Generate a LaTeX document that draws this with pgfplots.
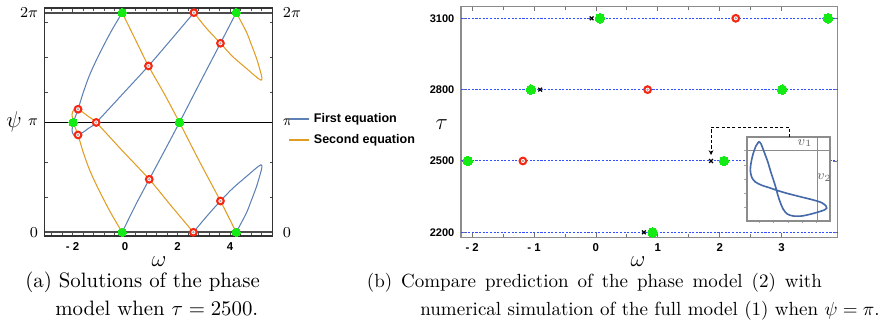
\documentclass[border=0pt]{standalone}
\usepackage{fontspec}
\setsansfont{Liberation Sans}
\usepackage{pgfplots}
\pgfplotsset{compat=1.18}
\usetikzlibrary{arrows.meta}
\definecolor{mblue}{rgb}{0.368,0.507,0.710}
\definecolor{morange}{rgb}{0.881,0.611,0.142}
\definecolor{mgreen}{RGB}{20,235,20}
\definecolor{mred}{RGB}{245,40,20}
\definecolor{dblue}{RGB}{50,80,255}
\definecolor{iblue}{RGB}{70,105,170}
\pgfplotsset{
  greenpt/.style={only marks, color=mgreen, mark=*, mark size=2.2pt, mark options={draw=mgreen, fill=mgreen, line width=0pt}},
  redpt/.style={only marks, color=mred, mark=*, mark size=1.75pt, mark options={draw=mred, line width=1.1pt, fill=white}},
  redctr/.style={only marks, color=black!35, mark=*, mark size=0.35pt, mark options={draw=none, fill=black!35}},
}
\begin{document}
\begin{tikzpicture}
\useasboundingbox (0pt,0pt) rectangle (463.4pt,169.37pt);
% ---------------- left panel ----------------
\begin{axis}[at={(23.51pt,45.24pt)}, anchor=south west, scale only axis,
  width=119.8pt, height=119.8pt,
  xmin=-3.06, xmax=5.61, ymin=-0.106, ymax=6.409,
  axis line style={black!80, line width=0.8pt},
  tick style={black!70, line width=0.4pt},
  major tick length=2.6pt, minor tick length=1.5pt,
  tick align=inside,
  xtick={-2,0,2,4}, xticklabels={- 2,0,2,4},
  minor xtick={-2.8,-2.4,-1.6,-1.2,-0.8,-0.4,0.4,0.8,1.2,1.6,2.4,2.8,3.2,3.6,4.4,4.8,5.2},
  ytick={0,3.14159,6.28319}, yticklabels={$0$,$\pi$,$2\pi$},
  minor ytick={1,2,4,5,6},
  xticklabel style={font=\sffamily\bfseries\fontsize{6}{6.5}\selectfont},
  yticklabel style={font=\fontsize{8}{9}\selectfont},
  clip=false,
  legend cell align=left,
  legend image code/.code={\draw[#1, line width=1.3pt] (0pt,0pt) -- (10.5pt,0pt);},
  legend style={at={(1.065,0.467)}, anchor=west, draw=none, fill=none, inner sep=0pt,
    font=\sffamily\bfseries\fontsize{6.6}{7.5}\selectfont, row sep=0.65pt},
]
\addplot[black!70, line width=1pt, forget plot] coordinates {(-3.06,0)(5.61,0)};
\addplot[black!70, line width=1pt, forget plot] coordinates {(-3.06,6.28319)(5.61,6.28319)};
\addplot[black, line width=0.6pt, forget plot] coordinates {(-3.06,3.14159)(5.61,3.14159)};
% blue (first equation)
\addplot[mblue, line width=0.55pt, smooth, tension=0.5] coordinates {
 (-0.11,0) (0.4,0.78) (0.92,1.516) (1.5,2.33) (2.07,3.1416) (2.85,4.28) (3.63,5.407) (4.23,6.2832)};
\addlegendentry{First equation}
\addplot[morange, line width=0.55pt, smooth, tension=0.5] coordinates {
 (-0.11,6.2832) (0.4,5.5) (0.89,4.758) (1.5,3.95) (2.07,3.1416) (2.85,2.0) (3.63,0.896) (4.23,0)};
\addlegendentry{Second equation}
\addplot[mblue, line width=0.55pt, smooth, tension=0.5, forget plot] coordinates {
 (-0.11,6.2832) (-0.55,5.72) (-1.0,5.07) (-1.35,4.50) (-1.60,3.98) (-1.79,3.519) (-1.92,3.25)
 (-1.98,3.10) (-2.01,2.98) (-2.02,2.92) (-2.0,2.84) (-1.94,2.77) (-1.86,2.745) (-1.79,2.784)
 (-1.6,2.86) (-1.4,2.97) (-1.10,3.1416) (-0.1,3.95) (0.89,4.758) (1.75,5.51) (2.62,6.2832)};
\addplot[morange, line width=0.55pt, smooth, tension=0.5, forget plot] coordinates {
 (-0.11,0) (-0.55,0.563) (-1.0,1.213) (-1.35,1.783) (-1.60,2.303) (-1.79,2.784) (-1.92,3.033)
 (-1.98,3.183) (-2.01,3.303) (-2.02,3.363) (-2.0,3.443) (-1.94,3.513) (-1.86,3.54) (-1.79,3.519)
 (-1.6,3.43) (-1.4,3.313) (-1.10,3.1416) (-0.1,2.33) (0.92,1.516) (1.75,0.76) (2.6,0)};
\addplot[mblue, line width=0.55pt, smooth, tension=0.5, forget plot] coordinates {
 (2.6,0) (3.1,0.45) (3.63,0.896) (4.10,1.26) (4.61,1.59) (4.9,1.78) (5.08,1.89) (5.17,1.93)
 (5.21,1.90) (5.19,1.79) (5.12,1.60) (5.0,1.30) (4.8,0.9) (4.61,0.54) (4.23,0)};
\addplot[morange, line width=0.55pt, smooth, tension=0.5, forget plot] coordinates {
 (2.62,6.2832) (3.1,5.833) (3.63,5.407) (4.10,5.023) (4.61,4.693) (4.9,4.503) (5.08,4.393) (5.17,4.353)
 (5.21,4.383) (5.19,4.493) (5.12,4.683) (5.0,4.983) (4.8,5.383) (4.61,5.743) (4.23,6.2832)};
\addplot[greenpt, forget plot] coordinates {(-0.11,6.2832) (4.23,6.2832) (-1.98,3.1416) (2.07,3.1416) (-0.11,0) (4.23,0)};
\addplot[redpt, forget plot] coordinates {(2.62,6.2832) (2.6,0) (3.63,5.407) (0.89,4.758) (-1.79,3.519) (-1.10,3.1416) (-1.79,2.784) (0.92,1.516) (3.63,0.896)};
\addplot[redctr, forget plot] coordinates {(2.62,6.2832) (2.6,0) (3.63,5.407) (0.89,4.758) (-1.79,3.519) (-1.10,3.1416) (-1.79,2.784) (0.92,1.516) (3.63,0.896)};
\node[anchor=west, font=\fontsize{8}{9}\selectfont, xshift=2pt] at (axis cs:5.61,0) {$0$};
\node[anchor=west, font=\fontsize{8}{9}\selectfont, xshift=2pt] at (axis cs:5.61,3.14159) {$\pi$};
\node[anchor=west, font=\fontsize{8}{9}\selectfont, xshift=2pt] at (axis cs:5.61,6.28319) {$2\pi$};
\end{axis}
% ---------------- right panel ----------------
\begin{axis}[at={(242.49pt,44.55pt)}, anchor=south west, scale only axis,
  width=197.9pt, height=121.3pt,
  xmin=-2.18, xmax=3.90, ymin=2179, ymax=3148.8,
  axis line style={black!45, line width=0.6pt},
  tick style={black!55, line width=0.4pt},
  major tick length=2.2pt, minor tick length=1.6pt,
  tick align=inside,
  xtick={-2,-1,0,1,2,3}, xticklabels={- 2,- 1,0,1,2,3}, minor x tick num=1,
  ytick={2200,2500,2800,3100}, yticklabels={2200,2500,2800,3100},
  xticklabel style={font=\sffamily\bfseries\fontsize{6}{6.5}\selectfont},
  yticklabel style={font=\sffamily\bfseries\fontsize{5.8}{6}\selectfont},
  clip=false,
]
\addplot[color=dblue, line width=0.55pt, dash pattern=on 1.1pt off 0.8pt] coordinates {(-2.18,2200) (3.90,2200)};
\addplot[color=dblue, line width=0.55pt, dash pattern=on 1.1pt off 0.8pt] coordinates {(-2.18,2500) (3.90,2500)};
\addplot[color=dblue, line width=0.55pt, dash pattern=on 1.1pt off 0.8pt] coordinates {(-2.18,2800) (3.90,2800)};
\addplot[color=dblue, line width=0.55pt, dash pattern=on 1.1pt off 0.8pt] coordinates {(-2.18,3100) (3.90,3100)};
\addplot[only marks, color=black, mark=x, mark size=1.4pt, mark options={black, line width=0.65pt}] coordinates {(-0.07,3100) (-0.90,2800) (1.86,2500) (0.775,2200)};
\addplot[greenpt, mark size=2.5pt] coordinates {(0.065,3100) (3.75,3100) (-1.05,2800) (3.01,2800) (-2.07,2500) (2.07,2500) (0.915,2200)};
\addplot[redpt] coordinates {(2.26,3100) (0.835,2800) (-1.18,2500)};
\addplot[redctr] coordinates {(2.26,3100) (0.835,2800) (-1.18,2500)};
\end{axis}
% ---------------- inset ----------------
\begin{axis}[at={(392.76pt,53.28pt)}, anchor=south west, scale only axis,
  width=43.8pt, height=43.9pt,
  xmin=0, xmax=83.3, ymin=0, ymax=83.3,
  axis background/.style={fill=white},
  axis line style={black!45, line width=0.9pt},
  xtick={12.6,26.6,41.6,55.9,70.0}, ytick={13.0,27.4,41.4,55.7,70.0},
  xticklabels={}, yticklabels={},
  xtick pos=left, ytick pos=left,
  tick align=outside, major tick length=1.3pt, tick style={black!35, line width=0.3pt},
  clip=false,
]
\addplot[black!45, line width=0.7pt] coordinates {(0,70) (83.3,70)};
\addplot[black!45, line width=0.7pt] coordinates {(70.6,0) (70.6,83.3)};
\addplot[iblue, line width=0.85pt, smooth, tension=0.5] coordinates {
 (12.3,79.0) (9.3,74.7) (6.6,67.4) (4.6,59.0) (3.6,50.7) (5.0,43.4) (8.6,38.7) (15.0,35.4)
 (23.3,32.7) (30.0,30.4) (40.0,27.4) (53.3,24.0) (66.6,20.7) (75.0,18.0) (79.3,14.7) (80.0,12.7)
 (77.6,10.7) (71.6,8.7) (63.3,6.4) (55.0,4.7) (46.6,4.7) (40.6,6.7) (36.6,11.4) (33.3,19.0)
 (30.6,27.4) (29.3,32.4) (27.3,39.0) (24.3,48.0) (21.0,59.0) (17.3,69.0) (14.3,76.7) (12.3,79.0)};
\node[font=\fontsize{7}{8}\selectfont, text=black!60] at (axis cs:58.3,77.4) {$v_1$};
\node[font=\fontsize{7}{8}\selectfont, text=black!60] at (axis cs:77.6,43.4) {$v_2$};
\end{axis}
% ---------------- annotations ----------------
\begin{scope}[x=0.526pt,y=0.526pt]
\draw[black, line width=0.5pt, dash pattern=on 1.6pt off 1.2pt, -{Stealth[length=2.5pt,width=2.5pt]}]
  (789.3,184.7) -- (789.3,194.7) -- (711,194.7) -- (711,167);
\node[font=\fontsize{12}{14}\selectfont] at (159,60.3) {$\omega$};
\node[font=\fontsize{12}{14}\selectfont] at (638,60.3) {$\omega$};
\node[font=\fontsize{12}{14}\selectfont] at (441.7,197) {$\tau$};
\node[font=\fontsize{12}{14}\selectfont] at (14,200) {$\psi$};
\node[anchor=base west, inner sep=0pt, font=\fontsize{10.95}{13}\selectfont] at (25,34.7) {(a) Solutions of the phase};
\node[anchor=base west, inner sep=0pt, font=\fontsize{10.95}{13}\selectfont] at (55,6.3) {model when $\tau = 2500$.};
\node[anchor=base west, inner sep=0pt, font=\fontsize{10}{12}\selectfont] at (366.5,34.7) {\makebox[239.3pt][s]{(b) Compare prediction of the phase model (2) with}};
\node[anchor=base west, inner sep=0pt, font=\fontsize{10}{12}\selectfont] at (420,6.3) {numerical simulation of the full model (1) when $\psi = \pi$.};
\end{scope}
\end{tikzpicture}
\end{document}
